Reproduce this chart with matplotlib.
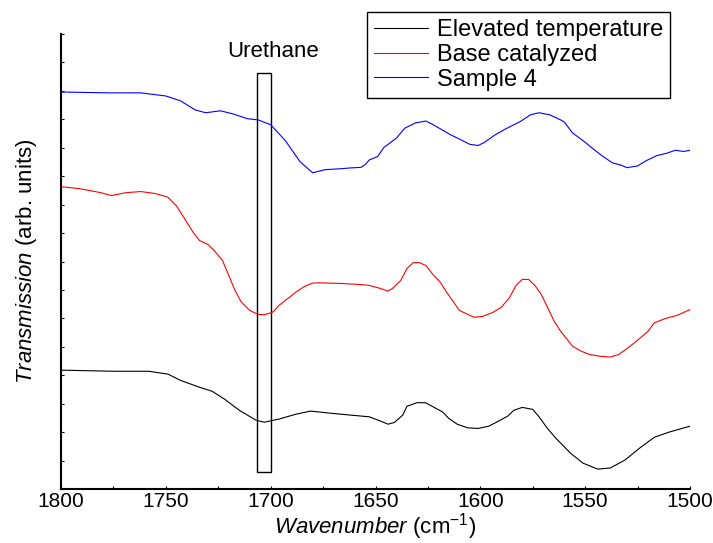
import numpy as np
import matplotlib
matplotlib.use("Agg")
import matplotlib.pyplot as plt
from matplotlib.patches import Rectangle

plt.rcParams["font.family"] = ["Liberation Sans", "DejaVu Sans"]
plt.rcParams["mathtext.fontset"] = "custom"
plt.rcParams["mathtext.rm"] = "Liberation Sans"
plt.rcParams["mathtext.it"] = "Liberation Sans:italic"

# Sample 4 (blue)
wn_s4 = [1800, 1777, 1762, 1750, 1743, 1736, 1731, 1724, 1718, 1711, 1706, 1700,
         1693, 1686, 1680, 1674, 1667, 1662, 1657, 1655, 1653, 1649, 1646, 1640,
         1636, 1631, 1626, 1623, 1618, 1614, 1609, 1605, 1601, 1598, 1593, 1588,
         1581, 1576, 1572, 1567, 1562, 1560, 1556, 1551, 1546, 1542, 1537, 1533,
         1530, 1525, 1521, 1516, 1511, 1507, 1503, 1500]
tr_s4 = [13.96, 13.93, 13.93, 13.82, 13.65, 13.33, 13.23, 13.30, 13.19, 13.02, 12.98, 12.81,
         12.25, 11.51, 11.12, 11.23, 11.26, 11.29, 11.31, 11.40, 11.57, 11.69, 12.01, 12.34,
         12.69, 12.87, 12.94, 12.83, 12.62, 12.45, 12.27, 12.12, 12.08, 12.19, 12.45, 12.66,
         12.92, 13.16, 13.23, 13.16, 12.99, 12.91, 12.52, 12.25, 11.95, 11.72, 11.47, 11.39,
         11.30, 11.36, 11.54, 11.72, 11.81, 11.91, 11.87, 11.91]

# Base catalyzed (red)
wn_base = [1800, 1791, 1781, 1776, 1769, 1762, 1755, 1749, 1745, 1741, 1737, 1734,
           1730, 1727, 1723, 1720, 1717, 1714, 1710, 1706, 1703, 1699, 1696, 1692,
           1688, 1684, 1680, 1677, 1667, 1657, 1653, 1648, 1644, 1642, 1638, 1635,
           1632, 1629, 1626, 1623, 1619, 1616, 1613, 1610, 1606, 1603, 1599, 1594,
           1590, 1586, 1583, 1580, 1577, 1574, 1571, 1568, 1565, 1562, 1556, 1552,
           1548, 1543, 1538, 1534, 1530, 1525, 1520, 1517, 1512, 1506, 1500]
tr_base = [10.63, 10.56, 10.42, 10.32, 10.42, 10.46, 10.39, 10.26, 9.96, 9.50, 9.03, 8.74,
           8.60, 8.39, 8.04, 7.51, 6.98, 6.57, 6.28, 6.14, 6.13, 6.22, 6.46, 6.69,
           6.92, 7.12, 7.24, 7.25, 7.23, 7.19, 7.16, 7.06, 6.96, 7.05, 7.33, 7.75,
           7.96, 7.96, 7.86, 7.58, 7.26, 6.91, 6.60, 6.28, 6.14, 6.04, 6.07, 6.21,
           6.39, 6.74, 7.16, 7.37, 7.37, 7.16, 6.85, 6.40, 5.93, 5.58, 5.02, 4.85,
           4.73, 4.67, 4.64, 4.73, 4.94, 5.23, 5.55, 5.84, 5.99, 6.11, 6.31]

# Elevated temperature (black)
wn_elev = [1800, 1774, 1758, 1749, 1743, 1734, 1728, 1722, 1715, 1707, 1703, 1696,
           1688, 1681, 1672, 1662, 1653, 1648, 1644, 1641, 1637, 1635, 1630, 1626,
           1623, 1618, 1615, 1611, 1606, 1601, 1596, 1592, 1587, 1584, 1580, 1575,
           1572, 1568, 1564, 1557, 1551, 1544, 1538, 1531, 1524, 1517, 1510, 1500]
tr_elev = [4.18, 4.14, 4.14, 4.04, 3.82, 3.58, 3.44, 3.16, 2.77, 2.42, 2.35, 2.46,
           2.63, 2.74, 2.67, 2.60, 2.54, 2.40, 2.28, 2.34, 2.60, 2.91, 3.04, 3.03,
           2.91, 2.71, 2.48, 2.28, 2.15, 2.13, 2.21, 2.36, 2.56, 2.77, 2.87, 2.80,
           2.54, 2.13, 1.79, 1.26, 0.91, 0.70, 0.74, 1.02, 1.44, 1.82, 2.00, 2.21]

urethane_band = (1700, 1706.5)
xticks = [1800, 1750, 1700, 1650, 1600, 1550, 1500]

fig = plt.figure(figsize=(7.13, 5.43), dpi=100)
ax = fig.add_axes([0.0856, 0.0994, 0.8821, 0.838])

l1, = ax.plot(wn_elev, tr_elev, color="black", lw=0.8)
l2, = ax.plot(wn_base, tr_base, color="red", lw=0.8)
l3, = ax.plot(wn_s4, tr_s4, color="blue", lw=0.8)

ax.add_patch(Rectangle((urethane_band[0], 0.6), urethane_band[1] - urethane_band[0], 14.03,
                       fill=False, edgecolor="black", lw=1.0))
ax.text(1699, 15.4, "Urethane", ha="center", va="center", fontsize=16)

ax.set_xlim(1800, 1500)
ax.set_ylim(0, 16)
ax.set_xticks(xticks)
ax.set_xticks(np.arange(1500, 1801, 25), minor=True)
ax.set_yticks(np.arange(0, 17, 1))
ax.set_yticklabels([])
ax.tick_params(direction="in", length=2, width=0.8, labelsize=15, pad=2)
ax.tick_params(which="minor", direction="in", length=2, width=0.8)
for s in ["top", "right"]:
    ax.spines[s].set_visible(False)
for s in ["left", "bottom"]:
    ax.spines[s].set_linewidth(1.5)

ax.set_xlabel(r"$\it{Wavenumber}$ (cm$^{-1}$)", fontsize=16, labelpad=0)
ax.set_ylabel(r"$\it{Transmission}$ (arb. units)", fontsize=16, labelpad=14)

leg = fig.legend([l1, l2, l3], ["Elevated temperature", "Base catalyzed", "Sample 4"],
                 loc="upper left", bbox_to_anchor=(367 / 713, 1 - 12 / 543),
                 fontsize=17, frameon=True, fancybox=False, framealpha=1,
                 edgecolor="black", handlelength=2.3, handletextpad=0.35,
                 labelspacing=0.12, borderpad=0.3, borderaxespad=0)
leg.get_frame().set_linewidth(1.0)

fig.savefig("out.png", dpi=100)
